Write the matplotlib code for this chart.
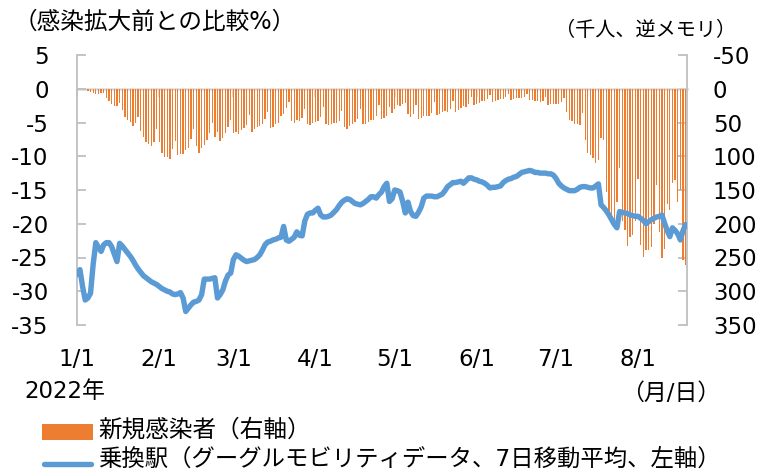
import numpy as np
import pandas as pd
import matplotlib
matplotlib.use("Agg")
import matplotlib.pyplot as plt
from matplotlib.patches import Rectangle
from matplotlib.lines import Line2D
from matplotlib.transforms import blended_transform_factory

plt.rcParams['font.family'] = ['DejaVu Sans', 'Noto Sans CJK JP']
plt.rcParams['axes.unicode_minus'] = False

# ---------------- data ----------------
start_date = '2022-01-01'
series_names = ['新規感染者（右軸）', '乗換駅（グーグルモビリティデータ、7日移動平均、左軸）']
month_labels = ['1/1', '2/1', '3/1', '4/1', '5/1', '6/1', '7/1', '8/1']

# new cases, thousands (right axis, inverted)
cases_jan = [0.5, 0.6, 0.8, 1.3, 2.6, 4.5, 6.2, 8.5, 8.2, 6.4, 5.9, 13.2, 18.7, 22.0, 25.7, 25.6,
             20.4, 32.2, 41.5, 46.2, 49.9, 54.6, 50.0, 42.0, 62.6, 71.6, 78.9, 81.8, 84.9, 78.3, 59.9]
cases_feb = [79.3, 94.9, 100.9, 100.7, 104.5, 89.1, 76.7, 97.8, 97.0, 97.0, 90.0, 88.3, 75.1, 59.0,
             84.5, 95.2, 87.8, 83.5, 75.6, 65.6, 51.3, 71.5, 63.4, 77.0, 72.7, 65.0, 57.0, 45.8]
cases_mar = [65.4, 64.8, 66.6, 61.0, 58.8, 53.0, 38.9, 63.6, 59.7, 56.2, 55.8, 52.7, 44.8, 34.0,
             57.9, 56.2, 52.4, 50.0, 40.9, 36.7, 29.0, 20.2, 47.9, 50.1, 46.9, 47.9, 44.0, 29.6,
             52.2, 54.0, 50.8]
cases_apr = [49.7, 47.5, 42.5, 27.6, 51.8, 53.4, 51.6, 50.6, 50.4, 47.6, 32.6, 57.3, 58.9, 54.8,
             51.6, 49.8, 44.2, 30.5, 52.3, 52.5, 49.4, 45.9, 46.7, 40.3, 23.6, 45.3, 43.8, 40.9,
             27.5, 36.3]
cases_may = [30.3, 24.6, 25.8, 22.7, 20.4, 37.3, 41.3, 37.5, 23.6, 45.4, 43.9, 40.1, 40.2, 40.7,
             36.6, 19.3, 39.5, 38.0, 35.0, 33.2, 34.4, 29.6, 18.4, 34.0, 31.3, 28.7, 25.8, 27.2,
             22.1, 12.0, 24.8]
cases_jun = [23.3, 20.6, 18.0, 17.6, 15.8, 8.9, 19.5, 18.1, 16.0, 14.6, 14.8, 12.3, 7.4, 16.5,
             15.1, 14.0, 13.6, 14.0, 12.6, 7.9, 17.1, 16.8, 17.6, 18.2, 19.9, 18.5, 12.3, 23.5,
             23.3, 23.3]
cases_jul = [23.1, 23.3, 20.3, 13.4, 35.0, 45.8, 47.9, 51.9, 52.2, 53.3, 36.0, 76.0, 94.5, 97.8,
             102.0, 110.7, 105.8, 73.5, 76.0, 152.6, 186.2, 195.2, 200.9, 168.1, 118.0, 196.4,
             209.7, 233.1, 220.0, 216.5, 196.4]
cases_aug = [133.0, 231.0, 249.2, 238.9, 238.4, 234.2, 200.6, 142.0, 212.0, 250.0, 238.0, 170.0,
             180.0, 140.0, 135.0, 168.0, 150.0, 253.0, 261.0]

# transit-station mobility vs. baseline, % (left axis)
mob_jan = [-27.5, -26.8, -29.3, -31.3, -31.0, -30.3, -26.0, -22.8, -23.5, -24.1, -23.1, -22.8,
           -22.8, -23.4, -24.5, -25.6, -22.9, -23.3, -23.8, -24.3, -24.8, -25.4, -26.1, -26.7,
           -27.2, -27.7, -28.0, -28.3, -28.6, -28.8, -29.0]
mob_feb = [-29.3, -29.6, -29.8, -30.0, -30.1, -30.4, -30.5, -30.4, -30.2, -31.0, -33.0, -32.5,
           -32.0, -31.6, -31.5, -31.3, -30.5, -28.2, -28.2, -28.2, -28.1, -28.0, -31.0, -30.5,
           -29.8, -28.5, -27.6, -27.3]
mob_mar = [-25.3, -24.6, -24.8, -25.1, -25.4, -25.6, -25.5, -25.4, -25.3, -25.0, -24.6, -23.9,
           -23.1, -22.7, -22.6, -22.4, -22.3, -22.1, -22.0, -20.4, -22.4, -22.6, -22.3, -22.0,
           -21.2, -21.7, -21.8, -19.6, -18.6, -18.4, -18.4]
mob_apr = [-18.0, -17.7, -18.7, -19.0, -19.0, -18.9, -18.7, -18.3, -17.9, -17.3, -16.8, -16.5,
           -16.3, -16.4, -16.7, -17.0, -17.1, -17.2, -17.0, -16.7, -16.4, -16.0, -16.0, -16.2,
           -15.7, -15.3, -14.5, -14.0, -16.7, -16.3]
mob_may = [-15.0, -15.1, -15.3, -16.7, -18.4, -16.8, -18.2, -18.8, -18.9, -18.3, -17.5, -16.2,
           -15.9, -15.9, -15.9, -16.0, -16.0, -15.8, -15.6, -15.1, -14.5, -14.2, -13.9, -13.9,
           -13.8, -13.7, -14.0, -13.6, -13.2, -13.2, -13.4]
mob_jun = [-13.5, -13.7, -13.8, -14.0, -14.3, -14.7, -14.6, -14.6, -14.5, -14.4, -13.9, -13.6,
           -13.4, -13.3, -13.1, -13.0, -12.7, -12.4, -12.3, -12.2, -12.1, -12.2, -12.4, -12.4,
           -12.5, -12.5, -12.5, -12.6, -12.6, -12.8]
mob_jul = [-13.3, -14.0, -14.4, -14.7, -14.9, -15.1, -15.1, -15.1, -14.9, -14.6, -14.5, -14.5,
           -14.6, -14.7, -14.7, -14.4, -14.1, -17.2, -17.6, -18.1, -18.7, -19.4, -20.1, -20.6,
           -18.2, -18.3, -18.4, -18.5, -18.7, -18.8, -18.9]
mob_aug = [-18.9, -19.2, -19.5, -20.0, -19.7, -19.4, -19.2, -19.0, -18.9, -18.7, -19.9, -21.0,
           -21.9, -20.6, -21.0, -21.5, -22.4, -21.0, -20.1]

cases = np.array(cases_jan + cases_feb + cases_mar + cases_apr + cases_may + cases_jun
                 + cases_jul + cases_aug)
mobility = np.array(mob_jan + mob_feb + mob_mar + mob_apr + mob_may + mob_jun + mob_jul + mob_aug)

dates = pd.date_range(start_date, periods=len(cases))
xpos = np.arange(len(cases))
month_idx = np.where(dates.day == 1)[0]

# ---------------- figure ----------------
W, H = 758, 472
def fx(px):
    return px / W
def fy(py):
    return 1 - py / H

fig = plt.figure(figsize=(W / 100, H / 100), dpi=100)
ax = fig.add_axes([fx(76.5), fy(325), (686.5 - 76.5) / W, (325 - 55) / H])
ax2 = ax.twinx()
ax.set_zorder(2)
ax2.set_zorder(1)
ax.patch.set_visible(False)

gray = '#bfbfbf'
orange = '#ed7d31'
blue = '#5b9bd5'

# bars (right axis, inverted)
ax2.bar(xpos, cases, width=0.5, color=orange, linewidth=0, zorder=2)
ax2.set_ylim(350, -50)
ax2.set_yticks(np.arange(-50, 351, 50))

# line (left axis)
ax.plot(xpos, mobility, color=blue, lw=3.9, solid_joinstyle='round',
        solid_capstyle='round', zorder=3)
ax.set_ylim(-35, 5)
ax.set_yticks(np.arange(-35, 6, 5))
ax.set_xlim(-0.3, len(cases) - 0.7)

# spines
for s in ['top', 'bottom', 'right']:
    ax.spines[s].set_visible(False)
ax.spines['left'].set_color(gray)
ax.spines['left'].set_linewidth(1.3)
for s in ['top', 'left']:
    ax2.spines[s].set_visible(False)
ax2.spines['right'].set_color(gray)
ax2.spines['right'].set_linewidth(1.3)
ax2.spines['bottom'].set_position(('data', 0))
ax2.spines['bottom'].set_color('#d9d9d9')
ax2.spines['bottom'].set_linewidth(1.8)
ax2.spines['bottom'].set_zorder(0.8)

ax2.xaxis.set_visible(True)
ax2.set_axisbelow(True)
ax2.set_xticks(month_idx)
ax2.tick_params(axis='x', direction='out', length=6, width=1.5, colors='#d9d9d9',
                labelbottom=False)
ax.tick_params(axis='x', bottom=False, labelbottom=False)

ax.tick_params(axis='y', direction='in', length=6.5, width=1.3, color=gray, pad=20,
               labelsize=16.5, labelcolor='black')
ax2.tick_params(axis='y', direction='in', length=6.5, width=1.3, color=gray, pad=19,
                labelsize=16.5, labelcolor='black')

# month labels
trans = blended_transform_factory(ax.transData, fig.transFigure)
for m, lab in zip(month_idx, month_labels):
    ax.text(m, fy(359), lab, transform=trans, ha='center', va='center', fontsize=16.5)

# headers and notes
fig.text(fx(14), fy(22), '（感染拡大前との比較%）', ha='left', va='center', fontsize=17)
fig.text(fx(736), fy(30), '（千人、逆メモリ）', ha='right', va='center', fontsize=14.5)
fig.text(fx(24), fy(391), '2022年', ha='left', va='center', fontsize=16.5)
fig.text(fx(720), fy(393), '（月/日）', ha='right', va='center', fontsize=16.5)

# legend
fig.add_artist(Rectangle((fx(42), fy(440)), 51 / W, 16 / H, transform=fig.transFigure,
                         facecolor=orange, edgecolor='none'))
fig.add_artist(Line2D([fx(44), fx(91)], [fy(464), fy(464)], transform=fig.transFigure,
                      color=blue, lw=3.9, solid_capstyle='round'))
fig.text(fx(98), fy(430), series_names[0], ha='left', va='center', fontsize=17)
fig.text(fx(98), fy(459.5), series_names[1], ha='left', va='center', fontsize=16.8)

fig.savefig('out.png', dpi=100, facecolor='white')
